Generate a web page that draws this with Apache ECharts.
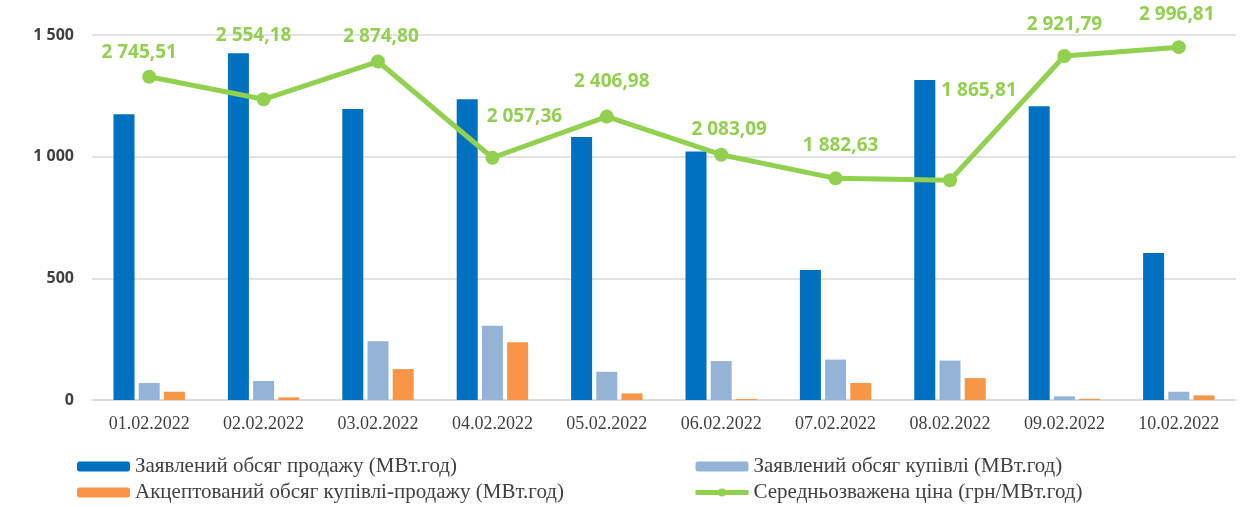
<!DOCTYPE html>
<html>
<head>
<meta charset="utf-8">
<script src="https://cdn.jsdelivr.net/npm/echarts@6/dist/echarts.min.js"></script>
<style>
  html, body { margin: 0; padding: 0; background: #fff; }
  #chart { width: 1252px; height: 507px; }
</style>
</head>
<body>
<div id="chart"></div>
<script>
const dates = ['01.02.2022', '02.02.2022', '03.02.2022', '04.02.2022', '05.02.2022',
  '06.02.2022', '07.02.2022', '08.02.2022', '09.02.2022', '10.02.2022']
const sellVolume = [1174, 1425, 1196, 1236, 1081, 1021, 534, 1315, 1207, 604]
const buyVolume = [70, 78, 241, 305, 116, 160, 166, 162, 15, 34]
const acceptedVolume = [34, 11, 127, 237, 27, 4, 70, 90, 5, 19]
const avgPrice = [2745.51, 2554.18, 2874.80, 2057.36, 2406.98, 2083.09, 1882.63, 1865.81, 2921.79, 2996.81]
const yTicks = [0, 500, 1000, 1500]

// зсув підписів ціни відносно точок
const labelOffsets = [[-10, -24], [-10, -64], [3, -25], [32, -41], [5, -35],
  [8, -25], [5, -33], [29, -90], [0, -31], [-2, -33]]

const names = [
  'Заявлений обсяг продажу (МВт.год)',
  'Заявлений обсяг купівлі (МВт.год)',
  'Акцептований обсяг купівлі-продажу (МВт.год)',
  'Середньозважена ціна (грн/МВт.год)'
]

const serif = 'Liberation Serif'

function fmt (v, digits) {
  const parts = v.toFixed(digits).split('.')
  const int = parts[0].replace(/\B(?=(\d{3})+(?!\d))/g, ' ')
  return parts.length > 1 ? int + ',' + parts[1] : int
}

const myChart = echarts.init(document.getElementById('chart'))
window.addEventListener('resize', function () {
  myChart.resize()
})

const legendText = {
  fontFamily: serif,
  fontSize: 21,
  color: '#404040'
}

const option = {
  animation: false,
  grid: {
    left: 92,
    right: 16,
    top: 35,
    bottom: 107
  },
  legend: [
    {
      data: [names[0], names[2]],
      orient: 'vertical',
      left: 77,
      top: 456,
      padding: 0,
      itemWidth: 53,
      itemHeight: 10,
      itemGap: 5,
      textStyle: legendText
    },
    {
      data: [names[1], names[3]],
      orient: 'vertical',
      left: 693,
      top: 456,
      padding: 0,
      itemWidth: 53,
      itemHeight: 10,
      itemGap: 5,
      lineStyle: { width: 5 },
      textStyle: legendText
    }
  ],
  xAxis: {
    type: 'category',
    data: dates,
    axisLine: { lineStyle: { color: '#d9d9d9', width: 1.5 } },
    axisTick: { length: 6, lineStyle: { color: '#d9d9d9', width: 1.5 } },
    axisLabel: {
      margin: 15,
      fontFamily: serif,
      fontSize: 18,
      color: '#404040'
    }
  },
  yAxis: [
    {
      type: 'value',
      min: yTicks[0],
      max: yTicks[yTicks.length - 1],
      interval: 500,
      axisLine: { show: false },
      axisTick: { show: false },
      splitLine: { lineStyle: { color: '#d9d9d9', width: 1.5 } },
      axisLabel: {
        margin: 18,
        fontFamily: 'Open Sans',
        fontWeight: 'bold',
        fontSize: 16,
        color: '#404040',
        formatter: function (v) { return fmt(v, 0) }
      }
    },
    {
      type: 'value',
      min: 0,
      max: 3100,
      show: false,
      splitLine: { show: false }
    }
  ],
  series: [
    {
      name: names[0],
      type: 'bar',
      data: sellVolume,
      barWidth: 21,
      barGap: '20%',
      itemStyle: { color: '#0070c0' }
    },
    {
      name: names[1],
      type: 'bar',
      data: buyVolume,
      barWidth: 21,
      barGap: '20%',
      itemStyle: { color: '#95b3d7' }
    },
    {
      name: names[2],
      type: 'bar',
      data: acceptedVolume,
      barWidth: 21,
      barGap: '20%',
      itemStyle: { color: '#f79646' }
    },
    {
      name: names[3],
      type: 'line',
      yAxisIndex: 1,
      data: avgPrice.map(function (v, i) {
        return { value: v, label: { offset: labelOffsets[i] } }
      }),
      symbol: 'circle',
      symbolSize: 14,
      lineStyle: { color: '#92d050', width: 5 },
      itemStyle: { color: '#92d050' },
      label: {
        show: true,
        position: 'inside',
        fontFamily: 'Open Sans',
        fontWeight: 'bold',
        fontSize: 19,
        color: '#92d050',
        formatter: function (p) { return fmt(p.value, 2) }
      }
    }
  ]
}

myChart.setOption(option)
</script>
</body>
</html>
